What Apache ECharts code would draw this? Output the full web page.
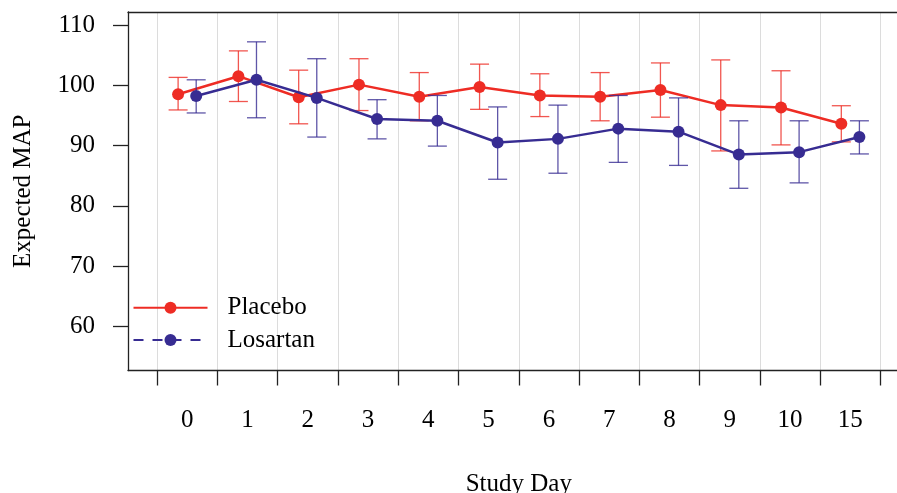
<!DOCTYPE html>
<html>
<head>
<meta charset="utf-8">
<script src="https://cdn.jsdelivr.net/npm/echarts@6/dist/echarts.min.js"></script>
<style>
  html, body { margin: 0; padding: 0; background: #fff; }
  #chart { width: 897px; height: 493px; }
</style>
</head>
<body>
<div id="chart"></div>
<script>
// study days on the x axis
const days = ['0', '1', '2', '3', '4', '5', '6', '7', '8', '9', '10', '15'];
// expected MAP, with lower / upper interval ends
const placeboMean = [98.5, 101.5, 98.0, 100.1, 98.1, 99.7, 98.3, 98.1, 99.2, 96.7, 96.3, 93.6];
const placeboLow = [95.9, 97.3, 93.6, 95.8, 94.1, 96.0, 94.8, 94.1, 94.7, 89.1, 90.1, 90.6];
const placeboHigh = [101.3, 105.7, 102.5, 104.4, 102.1, 103.5, 101.9, 102.1, 103.7, 104.2, 102.4, 96.6];
const losartanMean = [98.2, 100.9, 97.9, 94.4, 94.1, 90.5, 91.1, 92.8, 92.3, 88.5, 88.9, 91.4];
const losartanLow = [95.4, 94.6, 91.4, 91.1, 89.9, 84.4, 85.4, 87.2, 86.7, 82.9, 83.8, 88.6];
const losartanHigh = [100.9, 107.2, 104.4, 97.6, 98.3, 96.4, 96.7, 98.3, 97.9, 94.1, 94.1, 94.1];
const yTicks = [60, 70, 80, 90, 100, 110];

const RED = '#ee2c24';
const BLUE = '#372c92';
const FONT = 'Liberation Serif';
const FS = 25;
const DODGE = 0.15;
const Y_MIN = 52.67;
const Y_MAX = 112.15;

function points (mean, off) {
  return mean.map((v, i) => [i + off, v]);
}
function bars (low, high, off) {
  return low.map((v, i) => [i + off, v, high[i]]);
}
function errorBar (color) {
  return function (params, api) {
    let x = api.value(0);
    let lo = api.coord([x, api.value(1)]);
    let hi = api.coord([x, api.value(2)]);
    let w = 9.5;
    let style = { stroke: color, lineWidth: 1.3 };
    return {
      type: 'group',
      children: [
        { type: 'line', shape: { x1: lo[0], y1: lo[1], x2: hi[0], y2: hi[1] }, style: style },
        { type: 'line', shape: { x1: lo[0] - w, y1: lo[1], x2: lo[0] + w, y2: lo[1] }, style: style },
        { type: 'line', shape: { x1: hi[0] - w, y1: hi[1], x2: hi[0] + w, y2: hi[1] }, style: style }
      ]
    };
  };
}
const frameLine = { show: true, lineStyle: { color: '#222', width: 1.3 } };

let chart = echarts.init(document.getElementById('chart'));
chart.setOption({
  animation: false,
  textStyle: { fontFamily: FONT, color: '#000' },
  grid: [
    { left: 157, right: 16.5, top: 12, bottom: 122.5, containLabel: false, outerBoundsMode: 'none' },
    // frame: left, top and bottom lines
    { left: 128, right: 0, top: 12, bottom: 122.5, containLabel: false, outerBoundsMode: 'none' }
  ],
  xAxis: [{
    type: 'category',
    gridIndex: 0,
    data: days,
    boundaryGap: true,
    name: 'Study Day',
    nameLocation: 'middle',
    nameGap: 101,
    nameTextStyle: { fontFamily: FONT, fontSize: FS, color: '#000' },
    axisLine: { show: false },
    axisTick: { show: true, length: 15, inside: false, lineStyle: { color: '#222', width: 1.3 } },
    axisLabel: { margin: 37.5, fontFamily: FONT, fontSize: FS, color: '#000' },
    splitLine: { show: true, lineStyle: { color: '#dcdcdc', width: 1 } }
  }, {
    type: 'value',
    gridIndex: 0,
    min: -0.5,
    max: 11.5,
    show: false
  }, {
    type: 'value',
    gridIndex: 1,
    position: 'bottom',
    axisLine: frameLine,
    axisTick: { show: false },
    axisLabel: { show: false },
    splitLine: { show: false }
  }, {
    type: 'value',
    gridIndex: 1,
    position: 'top',
    axisLine: frameLine,
    axisTick: { show: false },
    axisLabel: { show: false },
    splitLine: { show: false }
  }],
  yAxis: [{
    type: 'value',
    gridIndex: 0,
    min: Y_MIN,
    max: Y_MAX,
    show: false
  }, {
    type: 'value',
    gridIndex: 1,
    min: Y_MIN,
    max: Y_MAX,
    name: 'Expected MAP',
    nameLocation: 'middle',
    nameGap: 92,
    nameTextStyle: { fontFamily: FONT, fontSize: FS, color: '#000' },
    axisLine: frameLine,
    axisTick: { show: true, length: 15, customValues: yTicks, lineStyle: { color: '#222', width: 1.3 } },
    axisLabel: { margin: 33, customValues: yTicks, fontFamily: FONT, fontSize: FS, color: '#000' },
    splitLine: { show: false }
  }],
  legend: {
    orient: 'vertical',
    left: 127.5,
    top: 290.2,
    itemWidth: 74,
    itemHeight: 15,
    itemGap: 7.3,
    textStyle: { fontFamily: FONT, fontSize: FS, color: '#000', padding: [0, 0, 0, 15] },
    data: [
      { name: 'Placebo' },
      { name: 'Losartan', lineStyle: { type: [10, 9] } }
    ]
  },
  series: [{
    name: 'Placebo bars',
    type: 'custom',
    xAxisIndex: 1,
    yAxisIndex: 0,
    renderItem: errorBar('rgba(238,44,36,0.8)'),
    encode: { x: 0, y: [1, 2] },
    data: bars(placeboLow, placeboHigh, -DODGE),
    silent: true,
    z: 2
  }, {
    name: 'Placebo',
    type: 'line',
    xAxisIndex: 1,
    yAxisIndex: 0,
    data: points(placeboMean, -DODGE),
    symbol: 'circle',
    symbolSize: 12,
    color: RED,
    itemStyle: { color: RED },
    lineStyle: { color: RED, width: 2.5 },
    silent: true,
    z: 3
  }, {
    name: 'Losartan bars',
    type: 'custom',
    xAxisIndex: 1,
    yAxisIndex: 0,
    renderItem: errorBar('rgba(55,44,146,0.8)'),
    encode: { x: 0, y: [1, 2] },
    data: bars(losartanLow, losartanHigh, DODGE),
    silent: true,
    z: 4
  }, {
    name: 'Losartan',
    type: 'line',
    xAxisIndex: 1,
    yAxisIndex: 0,
    data: points(losartanMean, DODGE),
    symbol: 'circle',
    symbolSize: 12,
    color: BLUE,
    itemStyle: { color: BLUE },
    lineStyle: { color: BLUE, width: 2.5 },
    silent: true,
    z: 5
  }]
});
</script>
</body>
</html>
